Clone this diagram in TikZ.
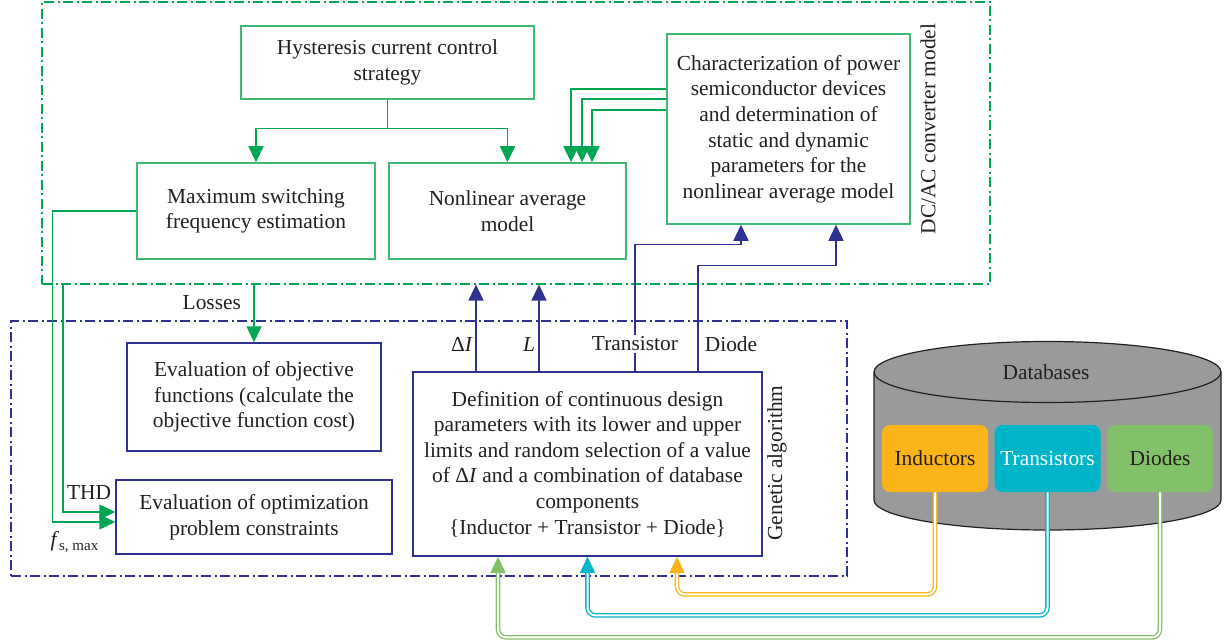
\documentclass[tikz,border=0pt]{standalone}
\usepackage{fontspec}
\setmainfont{Liberation Serif}
\usetikzlibrary{arrows.meta,calc}

\definecolor{cgreen}{RGB}{0,166,81}
\definecolor{cboxgreen}{RGB}{64,186,115}
\definecolor{cnavy}{RGB}{46,49,146}
\definecolor{cinduct}{RGB}{251,180,26}
\definecolor{ctrans}{RGB}{0,181,202}
\definecolor{cdiode}{RGB}{130,192,106}
\definecolor{cdbgray}{RGB}{153,155,155}
\definecolor{ctext}{RGB}{35,31,32}

\begin{document}
\begin{tikzpicture}[x=.5pt,y=.5pt,
	font=\fontsize{10.7}{12.8}\selectfont, text=ctext,
	gbox/.style={draw=cboxgreen, line width=.75pt, align=center, inner sep=0pt},
	bbox/.style={draw=cnavy, line width=.75pt, align=center, inner sep=0pt},
	dbbox/.style={fill=#1, rounded corners=4pt, minimum width=53pt, minimum height=33.5pt, inner sep=0pt},
	zone/.style={draw=#1, line width=.6pt, dash pattern=on 5pt off 1.75pt on 1pt off 1.75pt, inner sep=0pt},
	garrow/.style={cgreen, line width=.75pt, -{Triangle[length=8pt,width=7.5pt]}},
	barrow/.style={cnavy, line width=.75pt, -{Triangle[length=8pt,width=7.5pt]}},
	dbl/.style={draw=#1, double=white, line width=.65pt, double distance=1pt, rounded corners=4pt, -{Triangle[length=8pt,width=7.5pt]}},
	]
	\useasboundingbox (0,0) rectangle (1226,-642);

	% model and algorithm zones
	\node[zone=cgreen, minimum width=474pt, minimum height=141pt] (conv) at (516,-143) {};
	\node[zone=cnavy, minimum width=418pt, minimum height=127.5pt] (ga) at (429,-448.5) {};
	\node[rotate=90] (convlbl) at (928,-129) {DC/AC converter model};
	\node[rotate=90] (galbl) at (777,-463) {Genetic algorithm};

	% converter model blocks
	\node[gbox, minimum width=146.5pt, minimum height=36.5pt] (hyst) at (387.5,-62.5) {Hysteresis current control\\strategy};
	\node[gbox, minimum width=119pt, minimum height=48pt] (maxsw) at (256,-211) {Maximum switching\\frequency estimation};
	\node[gbox, minimum width=118.5pt, minimum height=48pt] (nonlin) at (507.5,-211) {Nonlinear average\\model};
	\node[gbox, minimum width=121.5pt, minimum height=95pt] (charact) at (788.5,-129) {Characterization of power\\semiconductor devices\\and determination of\\static and dynamic\\parameters for the\\nonlinear average model};

	% genetic algorithm blocks
	\node[bbox, minimum width=127pt, minimum height=54pt] (evalobj) at (254,-397) {Evaluation of objective\\functions (calculate the\\objective function cost)};
	\node[bbox, minimum width=138pt, minimum height=37pt] (evalopt) at (254,-517) {Evaluation of optimization\\problem constraints};
	\node[bbox, minimum width=174.5pt, minimum height=92pt] (defin) at (587.5,-464) {Definition of continuous design\\parameters with its lower and upper\\limits and random selection of a value\\of Δ\textit{I} and a combination of database\\components\\\{Inductor + Transistor + Diode\}};

	% databases
	\fill[cdbgray] (874,-372) -- (874,-500) arc[start angle=180,end angle=360,x radius=173.5,y radius=30] -- (1221,-372) arc[start angle=0,end angle=180,x radius=173.5,y radius=30.5] -- cycle;
	\draw[ctext, line width=.6pt] (874,-372) -- (874,-500) arc[start angle=180,end angle=360,x radius=173.5,y radius=30] -- (1221,-372);
	\draw[ctext, line width=.6pt] (1047.5,-372) ellipse[x radius=173.5,y radius=30.5];
	\node (dbname) at (1046,-372) {Databases};
	\node[dbbox=cinduct] (ind) at (935,-458.5) {Inductors};
	\node[dbbox=ctrans, text=white] (tra) at (1047.5,-458.5) {Transistors};
	\node[dbbox=cdiode] (dio) at (1160,-458.5) {Diodes};

	% green links
	\coordinate (split) at ($(hyst.south)+(0,-29)$);
	\draw[cgreen, line width=.75pt] (hyst.south) -- (split);
	\draw[garrow] (split) -| (maxsw.north);
	\draw[garrow] (split) -| (nonlin.north);
	\foreach \dy/\dx in {40/63.5, 30/74.5, 19/84.5}
		\draw[garrow] ($(charact.west)+(0,\dy)$) -| ($(nonlin.north)+(\dx,0)$);
	\draw[garrow] (maxsw.west) -- ++(-84,0) |- ($(evalopt.west)+(0,-5)$);
	\draw[garrow] ($(conv.south)+(-453,0)$) |- ($(evalopt.west)+(0,5)$);
	\draw[garrow] (evalobj.north |- conv.south) -- (evalobj.north);
	\node[anchor=east] (losses) at (248,-303) {Losses};
	\node (thd) at (89,-493) {THD};
	\node (fs) at (75,-542) {\textit{f}\textsubscript{s, max}};

	% blue links
	\coordinate (dI) at ($(defin.north)+(-111.5,0)$);
	\coordinate (indL) at ($(defin.north)+(-48.5,0)$);
	\coordinate (trO) at ($(defin.north)+(47.5,0)$);
	\coordinate (diO) at ($(defin.north)+(110.5,0)$);
	\draw[barrow] (dI) -- (dI |- conv.south);
	\draw[barrow] (indL) -- (indL |- conv.south);
	\draw[barrow] (trO) -- ++(0,127) -| ($(charact.south)+(-47.5,0)$);
	\draw[barrow] (diO) -- ++(0,106) -| ($(charact.south)+(47.5,0)$);
	\node (dIlbl) at (462,-344) {Δ\textit{I}};
	\node (Llbl) at (529,-344) {\textit{L}};
	\node[fill=white, inner sep=1pt] (trlbl) at (635,-344) {Transistor};
	\node (dilbl) at (731,-344) {Diode};

	% database links
	\coordinate (inI) at ($(defin.south)+(89.5,0)$);
	\coordinate (inT) at (defin.south);
	\coordinate (inD) at ($(defin.south)+(-89.5,0)$);
	\draw[dbl=cinduct] (ind.south) -- ++(0,-102) -| (inI);
	\draw[dbl=ctrans] (tra.south) -- ++(0,-123) -| (inT);
	\draw[dbl=cdiode] (dio.south) -- ++(0,-145) -| (inD);
\end{tikzpicture}
\end{document}
